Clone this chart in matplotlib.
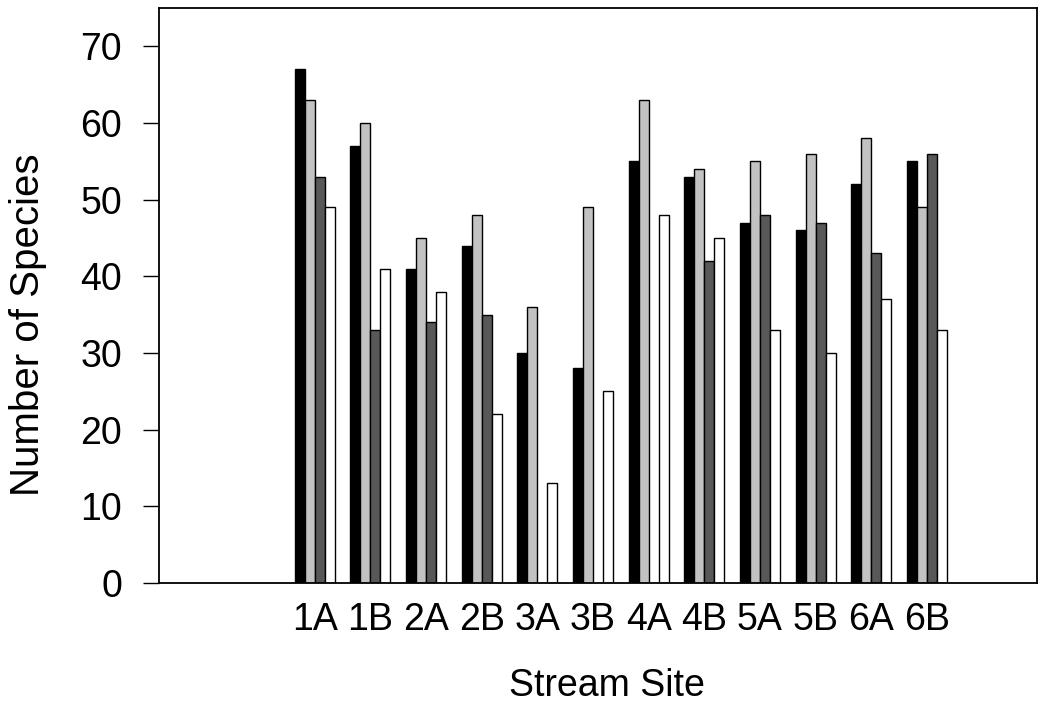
import matplotlib

matplotlib.use("Agg")
import matplotlib.pyplot as plt
import numpy as np

plt.rcParams["font.family"] = ["Liberation Sans", "DejaVu Sans"]

sites = ["1A", "1B", "2A", "2B", "3A", "3B", "4A", "4B", "5A", "5B", "6A", "6B"]
series_1 = [67, 57, 41, 44, 30, 28, 55, 53, 47, 46, 52, 55]
series_2 = [63, 60, 45, 48, 36, 49, 63, 54, 55, 56, 58, 49]
series_3 = [53, 33, 34, 35, np.nan, np.nan, np.nan, 42, 48, 47, 43, 56]
series_4 = [49, 41, 38, 22, 13, 25, 48, 45, 33, 30, 37, 33]

fills = ["#000000", "#c2c2c2", "#585858", "#ffffff"]

fig = plt.figure(figsize=(10.41, 7.06), dpi=100)
ax = fig.add_axes([0.1527, 0.1742, 0.8435, 0.8145])

x = np.arange(len(sites))
width = 0.18
offsets = [-1.5 * width, -0.5 * width, 0.5 * width, 1.5 * width]
for vals, off, col in zip([series_1, series_2, series_3, series_4], offsets, fills):
    ax.bar(x + off, vals, width, color=col, edgecolor="black", linewidth=1.0)

ax.set_xlim(-2.8, 12.98)
ax.set_ylim(0, 75)
ax.set_yticks(range(0, 80, 10))
ax.set_xticks(x)
ax.set_xticklabels(sites)

ax.tick_params(axis="y", direction="out", length=11.5, width=1.0, pad=15, labelsize=27)
ax.tick_params(axis="x", length=0, pad=14, labelsize=27)
for s in ax.spines.values():
    s.set_linewidth(1.3)

ax.set_xlabel("Stream Site", fontsize=27)
ax.set_ylabel("Number of Species", fontsize=29)
ax.xaxis.set_label_coords(0.51, -0.148)
ax.yaxis.set_label_coords(-0.128, 0.449)

fig.savefig("out.png", dpi=100)
